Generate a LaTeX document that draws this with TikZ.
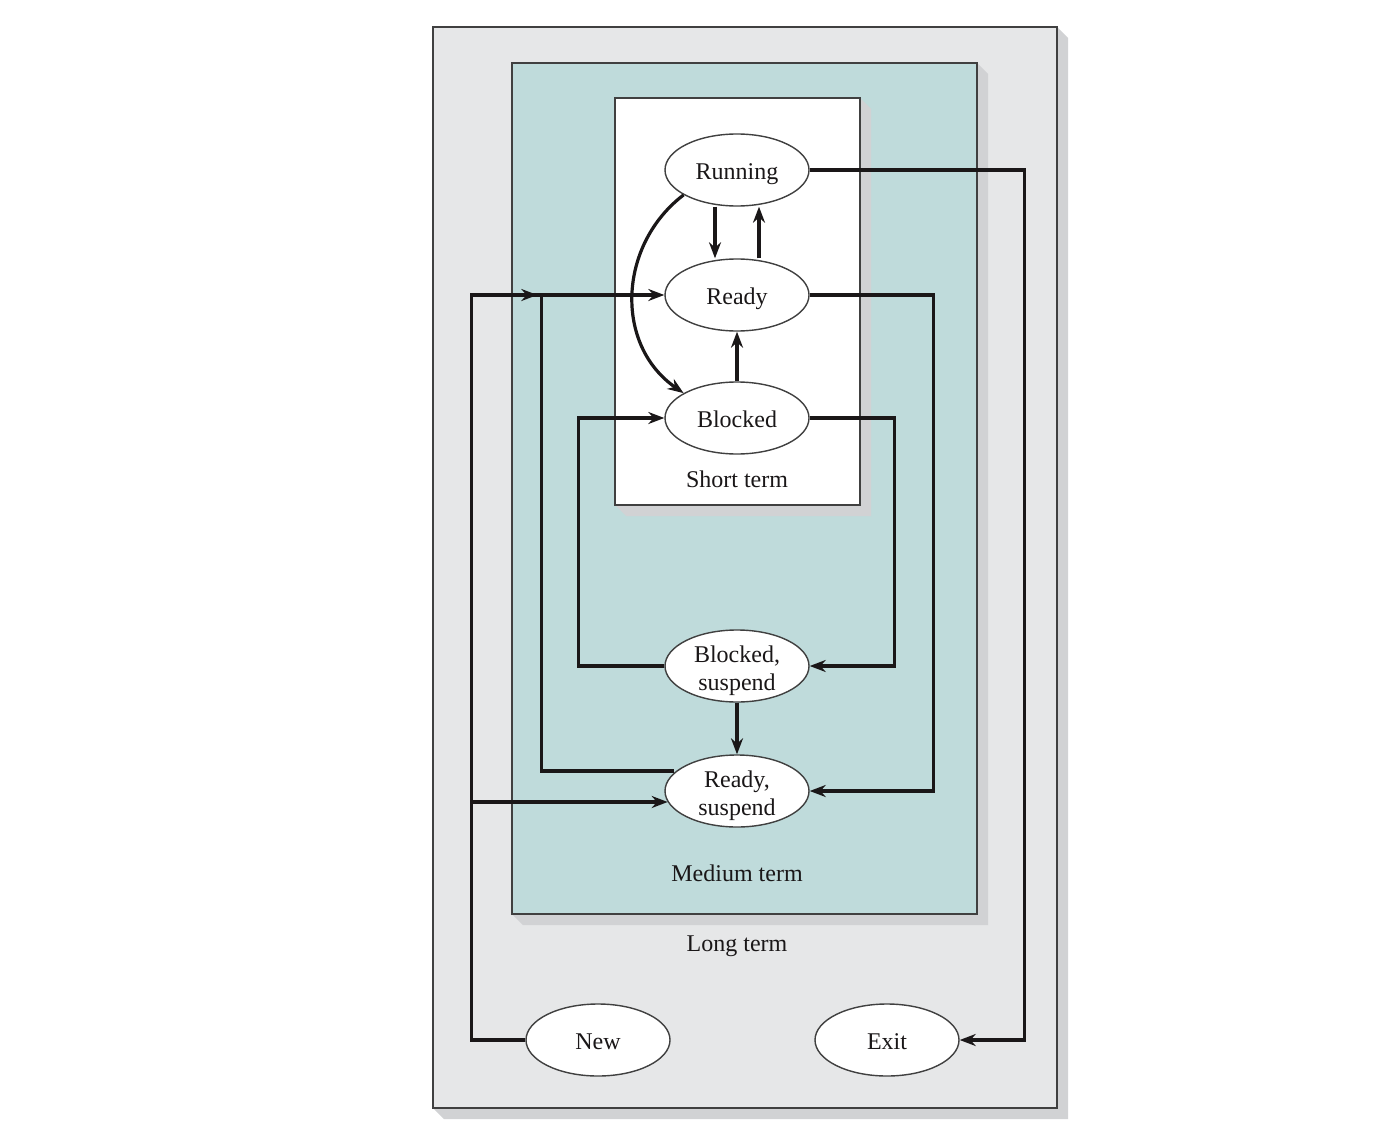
\documentclass[tikz,border=0pt]{standalone}
\usepackage{fontspec}
\setmainfont{Liberation Serif}
\usetikzlibrary{arrows.meta,calc,shapes.geometric}
\definecolor{outerfill}{HTML}{E6E7E8}
\definecolor{tealfill}{HTML}{BFDBDB}
\definecolor{shadowc}{HTML}{D1D2D4}
\definecolor{boxline}{HTML}{404040}
\definecolor{inkc}{HTML}{1A1718}
\tikzset{
  statebase/.style={ellipse, draw=boxline, line width=1.4pt, fill=white, minimum width=144pt, minimum height=72pt, inner sep=0pt, align=center, font=\fontsize{24}{28}\selectfont, text=inkc},
  state/.style={statebase, text height=18pt, text depth=0pt},
  state2/.style={statebase, text height=49pt, text depth=0pt},
  conn/.style={draw=inkc, line width=3.2pt},
  arr/.style={conn, -{Stealth[length=16pt,width=12pt]}},
  label/.style={font=\fontsize{24}{28}\selectfont, text=inkc},
  boxstyle/.style={draw=boxline, line width=1.8pt},
  shad/.style={fill=shadowc, draw=none}
}
\newcommand{\shbox}[5]{%
  \fill[shad] (#3,#2) -- (#3+11,#2+11) -- (#3+11,#4+11) -- (#1+11,#4+11) -- (#1,#4) -- cycle;
  \draw[boxstyle, fill=#5] (#1,#2) rectangle (#3,#4);}
\begin{document}
\begin{tikzpicture}[x=1pt,y=-1pt]
\useasboundingbox (0,0) rectangle (1388,1134);
% boxes
\shbox{433}{27}{1057}{1108}{outerfill}
\shbox{512}{63}{977}{914}{tealfill}
\shbox{615}{98}{860}{505}{white}
% labels
\node[label] (lshort) at (737,479) {Short term};
\node[label] (lmed) at (737,873) {Medium term};
\node[label] (llong) at (737,946) {Long term};
% states
\node[state] (run) at (737,170) {Running};
\node[state] (rdy) at (737,295) {Ready};
\node[state] (blk) at (737,418) {Blocked};
\node[state2] (bs) at (737,666) {Blocked,\\suspend};
\node[state2] (rs) at (737,791) {Ready,\\suspend};
\node[state] (new) at (598,1040) {New};
\node[state] (exit) at (887,1040) {Exit};
% short-term transitions
\draw[arr] ([xshift=-22pt]run.south) -- ([xshift=-22pt]rdy.north);
\draw[arr] ([xshift=22pt]rdy.north) -- ([xshift=22pt]run.south);
\draw[arr] (blk.north) -- (rdy.south);
\draw[arr] (run.205) .. controls (618,245) and (614,345) .. (blk.155);
% long-term
\draw[arr] (run.east) -- ++(215,0) |- (exit.east);
\draw[arr] (new.west) -- ++(-54,0) coordinate (nw) |- (rdy.west);
\draw[arr] (nw |- rdy.west) -- ++(66,0);
\draw[arr] (nw |- 0,802) -- ([xshift=3.4pt,yshift=-11pt]rs.west);
% medium-term
\draw[conn] ([xshift=10pt,yshift=20pt]rs.west) -| ([xshift=-123pt]rdy.west);
\draw[arr] (rdy.east) -- ++(124,0) |- (rs.east);
\draw[arr] (blk.east) -- ++(85,0) |- (bs.east);
\draw[arr] (bs.west) -- ++(-86,0) |- (blk.west);
\draw[arr] (bs.south) -- (rs.north);
\end{tikzpicture}
\end{document}
